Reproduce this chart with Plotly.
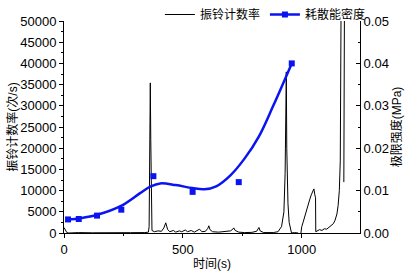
import plotly.graph_objects as go

# 振铃计数率 (count rate) series
count_t = [0, 5, 12, 20, 60, 120, 200, 280, 340, 355, 358, 361, 363, 365, 367, 370, 380, 395, 410, 420,
           428, 436, 445, 460, 470, 485, 495, 510, 520, 535, 548, 560, 570, 580, 595, 605, 609, 614,
           625, 650, 680, 700, 710, 714, 720, 735, 760, 790, 810, 817, 820, 825, 840, 880, 900, 915,
           925, 930, 933, 935, 937, 939, 942, 947, 952, 957, 970, 985, 993, 997, 1000, 1005, 1015,
           1025, 1033, 1040, 1046, 1051, 1055, 1058, 1059, 1065, 1075, 1085, 1095, 1105, 1115, 1125,
           1133, 1140, 1148, 1153, 1158, 1162, 1166, 1172, 1180, 1177]
count_v = [1300, 800, 100, 0, 100, 50, 150, 80, 100, 200, 1500, 20000, 35400, 22000, 3000, 600, 300, 500,
           400, 1200, 2400, 800, 300, 600, 200, 500, 300, 700, 300, 600, 200, 500, 900, 300, 400, 1100,
           1700, 800, 300, 200, 300, 500, 900, 1200, 600, 200, 100, 150, 400, 1100, 1300, 500, 100, 100,
           300, 1500, 5000, 14000, 30000, 38000, 20000, 14000, 7000, 2500, 800, 0, 100, 0, -1500, 300,
           1500, 2400, 4500, 6200, 7800, 9000, 9800, 10400, 9000, 8300, 300, 500, 800, 600, 1000, 900,
           1300, 1700, 2200, 3000, 4500, 6500, 10000, 17000, 60000, 80000, 60000, 12000]

# 耗散能密度 (dissipated energy density) measured points, MPa
energy_t = [17, 62, 139, 241, 376, 541, 735, 958]
energy_v = [0.0032, 0.0033, 0.0041, 0.0055, 0.0134, 0.0097, 0.0120, 0.0400]

# smooth fitted curve, MPa
fit_t = [17, 70, 140, 240, 320, 365, 405, 470, 540, 590, 640, 700, 760, 820, 880, 958]
fit_v = [0.0032, 0.0035, 0.0043, 0.0064, 0.0094, 0.0110, 0.0117, 0.0113, 0.0106, 0.0103,
         0.0110, 0.0136, 0.0176, 0.0228, 0.0300, 0.0400]

x_ticks = [0, 500, 1000]
blue = "#0a14f0"
font_family = "Liberation Sans, Arial, Noto Sans CJK SC, sans-serif"

fig = go.Figure()
fig.add_trace(go.Scatter(x=count_t, y=count_v, mode="lines", name="振铃计数率",
                         line=dict(color="black", width=1)))
fig.add_trace(go.Scatter(x=fit_t, y=fit_v, mode="lines", yaxis="y2", showlegend=False,
                         line=dict(color=blue, width=2.5, shape="spline", smoothing=1.0)))
fig.add_trace(go.Scatter(x=energy_t, y=energy_v, mode="markers", yaxis="y2", showlegend=False,
                         marker=dict(color=blue, size=6, symbol="square")))
# legend proxy with line + marker
fig.add_trace(go.Scatter(x=[None], y=[None], mode="lines+markers", yaxis="y2", name="耗散能密度",
                         line=dict(color=blue, width=2.5),
                         marker=dict(color=blue, size=6, symbol="square")))

dom_top = (233 - 21) / 233

fig.update_layout(
    width=406, height=271,
    margin=dict(l=64, r=46, t=0, b=38, pad=0),
    paper_bgcolor="white", plot_bgcolor="white",
    font=dict(family=font_family, size=13, color="black"),
    showlegend=True,
    legend=dict(orientation="h", x=0.324, y=1.0, xanchor="left", yanchor="top",
                font=dict(size=12), bgcolor="rgba(0,0,0,0)", itemwidth=30,
                tracegroupgap=0, itemclick=False, borderwidth=0),
    xaxis=dict(range=[0, 1245], tickvals=x_ticks, showgrid=False, zeroline=False,
               showline=True, linecolor="black", linewidth=1, ticks="outside", ticklen=4,
               tickcolor="black",
               minor=dict(dtick=250, ticks="outside", ticklen=2, tickcolor="black"),
               title=dict(text="时间(s)", standoff=3, font=dict(size=12)), automargin=False),
    yaxis=dict(domain=[0, dom_top], range=[0, 50000], dtick=5000, tickformat="d",
               showgrid=False, zeroline=False,
               showline=True, linecolor="black", linewidth=1, ticks="outside", ticklen=4,
               tickcolor="black",
               minor=dict(dtick=2500, ticks="outside", ticklen=2, tickcolor="black"),
               title=dict(text="振铃计数率(次/s)", standoff=0, font=dict(size=12)), automargin=False),
    yaxis2=dict(range=[0, 0.05], dtick=0.01, tickformat=".2f", overlaying="y", side="right",
                showgrid=False, zeroline=False, showline=True, linecolor="black", linewidth=1,
                ticks="inside", ticklen=4, tickcolor="black",
                minor=dict(dtick=0.005, ticks="inside", ticklen=2, tickcolor="black"),
                title=dict(text="极限强度(MPa)", standoff=4, font=dict(size=12)), automargin=False),
)

fig.write_html("out.html", config={"displayModeBar": False},
               post_script="document.body.style.margin='0px';")
